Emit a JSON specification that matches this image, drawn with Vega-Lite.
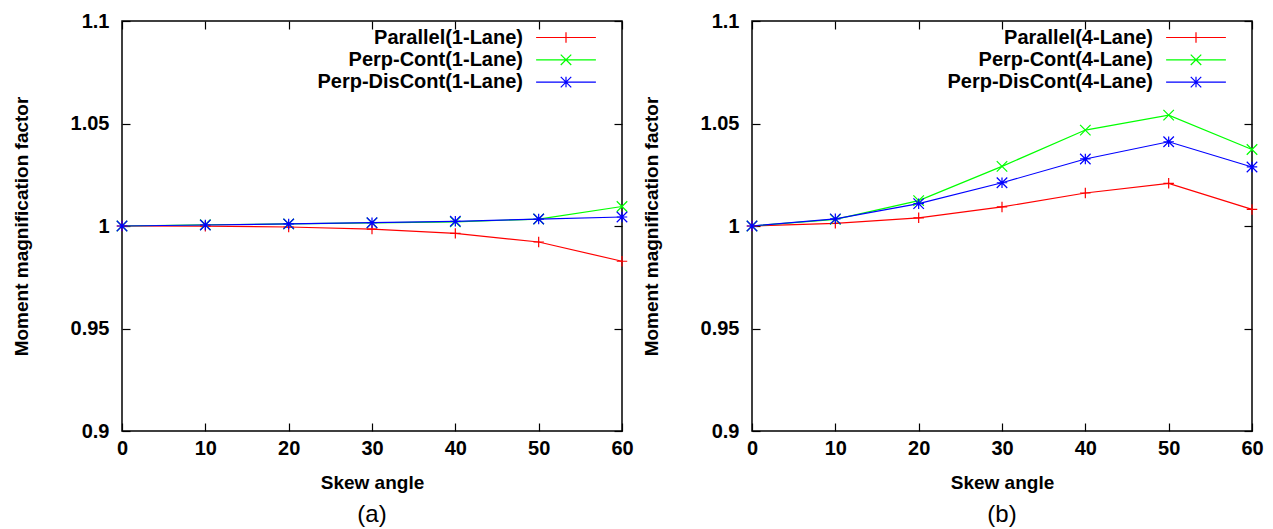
{
  "$schema": "https://vega.github.io/schema/vega-lite/v6.json",
  "background": "white",
  "padding": {"left": 11, "top": 10, "right": 5, "bottom": 5},
  "config": {
    "view": {"stroke": "black", "strokeWidth": 1.5},
    "font": "Liberation Sans",
    "axis": {
      "labelFont": "Liberation Sans", "labelFontSize": 20, "labelFontWeight": "bold", "labelColor": "black",
      "titleFont": "Liberation Sans", "titleFontSize": 19, "titleFontWeight": "bold", "titleColor": "black",
      "tickColor": "black", "tickSize": -8, "tickWidth": 1.2, "grid": false, "domain": false, "labelFlush": false
    },
    "legend": {
      "orient": "none", "legendX": 434, "legendY": 6.5, "padding": 0, "title": null,
      "labelFont": "Liberation Sans", "labelFontSize": 20, "labelFontWeight": "bold", "labelColor": "black",
      "labelAlign": "right", "labelOffset": -53, "labelLimit": 0,
      "symbolSize": 110, "symbolStrokeWidth": 1.2, "rowPadding": 2.3, "symbolOpacity": 1
    }
  },
  "datasets": {
    "a": [
      {"angle": 0, "mmf": 1.0, "series": "Parallel(1-Lane)"},
      {"angle": 10, "mmf": 0.9999, "series": "Parallel(1-Lane)"},
      {"angle": 20, "mmf": 0.9995, "series": "Parallel(1-Lane)"},
      {"angle": 30, "mmf": 0.9985, "series": "Parallel(1-Lane)"},
      {"angle": 40, "mmf": 0.9964, "series": "Parallel(1-Lane)"},
      {"angle": 50, "mmf": 0.9922, "series": "Parallel(1-Lane)"},
      {"angle": 60, "mmf": 0.9828, "series": "Parallel(1-Lane)"},
      {"angle": 0, "mmf": 1.0, "series": "Perp-Cont(1-Lane)"},
      {"angle": 10, "mmf": 1.0006, "series": "Perp-Cont(1-Lane)"},
      {"angle": 20, "mmf": 1.001, "series": "Perp-Cont(1-Lane)"},
      {"angle": 30, "mmf": 1.0015, "series": "Perp-Cont(1-Lane)"},
      {"angle": 40, "mmf": 1.002, "series": "Perp-Cont(1-Lane)"},
      {"angle": 50, "mmf": 1.0034, "series": "Perp-Cont(1-Lane)"},
      {"angle": 60, "mmf": 1.0095, "series": "Perp-Cont(1-Lane)"},
      {"angle": 0, "mmf": 1.0, "series": "Perp-DisCont(1-Lane)"},
      {"angle": 10, "mmf": 1.0005, "series": "Perp-DisCont(1-Lane)"},
      {"angle": 20, "mmf": 1.001, "series": "Perp-DisCont(1-Lane)"},
      {"angle": 30, "mmf": 1.0016, "series": "Perp-DisCont(1-Lane)"},
      {"angle": 40, "mmf": 1.0023, "series": "Perp-DisCont(1-Lane)"},
      {"angle": 50, "mmf": 1.0034, "series": "Perp-DisCont(1-Lane)"},
      {"angle": 60, "mmf": 1.0044, "series": "Perp-DisCont(1-Lane)"}
    ],
    "b": [
      {"angle": 0, "mmf": 1.0, "series": "Parallel(4-Lane)"},
      {"angle": 10, "mmf": 1.0013, "series": "Parallel(4-Lane)"},
      {"angle": 20, "mmf": 1.004, "series": "Parallel(4-Lane)"},
      {"angle": 30, "mmf": 1.0093, "series": "Parallel(4-Lane)"},
      {"angle": 40, "mmf": 1.0161, "series": "Parallel(4-Lane)"},
      {"angle": 50, "mmf": 1.0208, "series": "Parallel(4-Lane)"},
      {"angle": 60, "mmf": 1.0081, "series": "Parallel(4-Lane)"},
      {"angle": 0, "mmf": 1.0, "series": "Perp-Cont(4-Lane)"},
      {"angle": 10, "mmf": 1.0032, "series": "Perp-Cont(4-Lane)"},
      {"angle": 20, "mmf": 1.0124, "series": "Perp-Cont(4-Lane)"},
      {"angle": 30, "mmf": 1.0291, "series": "Perp-Cont(4-Lane)"},
      {"angle": 40, "mmf": 1.0468, "series": "Perp-Cont(4-Lane)"},
      {"angle": 50, "mmf": 1.0541, "series": "Perp-Cont(4-Lane)"},
      {"angle": 60, "mmf": 1.0373, "series": "Perp-Cont(4-Lane)"},
      {"angle": 0, "mmf": 1.0, "series": "Perp-DisCont(4-Lane)"},
      {"angle": 10, "mmf": 1.0035, "series": "Perp-DisCont(4-Lane)"},
      {"angle": 20, "mmf": 1.0109, "series": "Perp-DisCont(4-Lane)"},
      {"angle": 30, "mmf": 1.0211, "series": "Perp-DisCont(4-Lane)"},
      {"angle": 40, "mmf": 1.0327, "series": "Perp-DisCont(4-Lane)"},
      {"angle": 50, "mmf": 1.0411, "series": "Perp-DisCont(4-Lane)"},
      {"angle": 60, "mmf": 1.0288, "series": "Perp-DisCont(4-Lane)"}
    ]
  },
  "hconcat": [
    {
      "width": 500, "height": 410,
      "data": {"name": "a"},
      "title": {"text": "(a)", "orient": "bottom", "fontSize": 24, "fontWeight": "normal", "font": "Liberation Sans", "color": "black", "offset": 11},
      "layer": [
        {
          "mark": {"type": "line", "strokeWidth": 1.2},
          "encoding": {
            "x": {"field": "angle", "type": "quantitative", "scale": {"domain": [0, 60], "nice": false}, "axis": {"orient": "bottom", "title": "Skew angle", "values": [0, 10, 20, 30, 40, 50, 60], "labelPadding": 15, "titlePadding": 15}},
            "y": {"field": "mmf", "type": "quantitative", "scale": {"domain": [0.9, 1.1], "nice": false, "zero": false}, "axis": {"orient": "left", "title": "Moment magnification factor", "values": [0.9, 0.95, 1, 1.05, 1.1], "format": "~g", "labelPadding": 21, "titlePadding": 39}},
            "color": {"field": "series", "type": "nominal", "scale": {"domain": ["Parallel(1-Lane)", "Perp-Cont(1-Lane)", "Perp-DisCont(1-Lane)"], "range": ["#ff0000", "#00ff00", "#0000ff"]}}
          }
        },
        {
          "mark": {"type": "point", "filled": false, "size": 110, "strokeWidth": 1.2, "opacity": 0},
          "encoding": {
            "x": {"field": "angle", "type": "quantitative", "axis": {"orient": "top", "title": null, "labels": false, "values": [0, 10, 20, 30, 40, 50, 60]}},
            "y": {"field": "mmf", "type": "quantitative", "axis": {"orient": "right", "title": null, "labels": false, "values": [0.9, 0.95, 1, 1.05, 1.1]}},
            "color": {"field": "series", "type": "nominal"},
            "shape": {"field": "series", "type": "nominal", "scale": {"domain": ["Parallel(1-Lane)", "Perp-Cont(1-Lane)", "Perp-DisCont(1-Lane)"], "range": ["M-5.7,0H5.7M0,-1V1", "M-5.7,0H5.7M-1,-1L1,1M-1,1L1,-1", "M-5.7,0H5.7M0,-1V1M-1,-1L1,1M-1,1L1,-1"]}}
          }
        },
        {
          "transform": [{"filter": {"field": "series", "equal": "Parallel(1-Lane)"}}],
          "mark": {"type": "point", "filled": false, "size": 110, "strokeWidth": 1.2, "opacity": 1, "shape": "M-1,0H1M0,-1V1"},
          "encoding": {
            "x": {"field": "angle", "type": "quantitative", "axis": null},
            "y": {"field": "mmf", "type": "quantitative", "axis": null},
            "color": {"field": "series", "type": "nominal"}
          }
        },
        {
          "transform": [{"filter": {"field": "series", "equal": "Perp-Cont(1-Lane)"}}],
          "mark": {"type": "point", "filled": false, "size": 110, "strokeWidth": 1.2, "opacity": 1, "shape": "M-1,-1L1,1M-1,1L1,-1"},
          "encoding": {
            "x": {"field": "angle", "type": "quantitative", "axis": null},
            "y": {"field": "mmf", "type": "quantitative", "axis": null},
            "color": {"field": "series", "type": "nominal"}
          }
        },
        {
          "transform": [{"filter": {"field": "series", "equal": "Perp-DisCont(1-Lane)"}}],
          "mark": {"type": "point", "filled": false, "size": 110, "strokeWidth": 1.2, "opacity": 1, "shape": "M-1,0H1M0,-1V1M-1,-1L1,1M-1,1L1,-1"},
          "encoding": {
            "x": {"field": "angle", "type": "quantitative", "axis": null},
            "y": {"field": "mmf", "type": "quantitative", "axis": null},
            "color": {"field": "series", "type": "nominal"}
          }
        }
      ],
      "resolve": {"axis": {"x": "independent", "y": "independent"}}
    },
    {
      "width": 500, "height": 410,
      "data": {"name": "b"},
      "title": {"text": "(b)", "orient": "bottom", "fontSize": 24, "fontWeight": "normal", "font": "Liberation Sans", "color": "black", "offset": 11},
      "layer": [
        {
          "mark": {"type": "line", "strokeWidth": 1.2},
          "encoding": {
            "x": {"field": "angle", "type": "quantitative", "scale": {"domain": [0, 60], "nice": false}, "axis": {"orient": "bottom", "title": "Skew angle", "values": [0, 10, 20, 30, 40, 50, 60], "labelPadding": 15, "titlePadding": 15}},
            "y": {"field": "mmf", "type": "quantitative", "scale": {"domain": [0.9, 1.1], "nice": false, "zero": false}, "axis": {"orient": "left", "title": "Moment magnification factor", "values": [0.9, 0.95, 1, 1.05, 1.1], "format": "~g", "labelPadding": 21, "titlePadding": 39}},
            "color": {"field": "series", "type": "nominal", "scale": {"domain": ["Parallel(4-Lane)", "Perp-Cont(4-Lane)", "Perp-DisCont(4-Lane)"], "range": ["#ff0000", "#00ff00", "#0000ff"]}}
          }
        },
        {
          "mark": {"type": "point", "filled": false, "size": 110, "strokeWidth": 1.2, "opacity": 0},
          "encoding": {
            "x": {"field": "angle", "type": "quantitative", "axis": {"orient": "top", "title": null, "labels": false, "values": [0, 10, 20, 30, 40, 50, 60]}},
            "y": {"field": "mmf", "type": "quantitative", "axis": {"orient": "right", "title": null, "labels": false, "values": [0.9, 0.95, 1, 1.05, 1.1]}},
            "color": {"field": "series", "type": "nominal"},
            "shape": {"field": "series", "type": "nominal", "scale": {"domain": ["Parallel(4-Lane)", "Perp-Cont(4-Lane)", "Perp-DisCont(4-Lane)"], "range": ["M-5.7,0H5.7M0,-1V1", "M-5.7,0H5.7M-1,-1L1,1M-1,1L1,-1", "M-5.7,0H5.7M0,-1V1M-1,-1L1,1M-1,1L1,-1"]}}
          }
        },
        {
          "transform": [{"filter": {"field": "series", "equal": "Parallel(4-Lane)"}}],
          "mark": {"type": "point", "filled": false, "size": 110, "strokeWidth": 1.2, "opacity": 1, "shape": "M-1,0H1M0,-1V1"},
          "encoding": {
            "x": {"field": "angle", "type": "quantitative", "axis": null},
            "y": {"field": "mmf", "type": "quantitative", "axis": null},
            "color": {"field": "series", "type": "nominal"}
          }
        },
        {
          "transform": [{"filter": {"field": "series", "equal": "Perp-Cont(4-Lane)"}}],
          "mark": {"type": "point", "filled": false, "size": 110, "strokeWidth": 1.2, "opacity": 1, "shape": "M-1,-1L1,1M-1,1L1,-1"},
          "encoding": {
            "x": {"field": "angle", "type": "quantitative", "axis": null},
            "y": {"field": "mmf", "type": "quantitative", "axis": null},
            "color": {"field": "series", "type": "nominal"}
          }
        },
        {
          "transform": [{"filter": {"field": "series", "equal": "Perp-DisCont(4-Lane)"}}],
          "mark": {"type": "point", "filled": false, "size": 110, "strokeWidth": 1.2, "opacity": 1, "shape": "M-1,0H1M0,-1V1M-1,-1L1,1M-1,1L1,-1"},
          "encoding": {
            "x": {"field": "angle", "type": "quantitative", "axis": null},
            "y": {"field": "mmf", "type": "quantitative", "axis": null},
            "color": {"field": "series", "type": "nominal"}
          }
        }
      ],
      "resolve": {"axis": {"x": "independent", "y": "independent"}}
    }
  ],
  "spacing": 130,
  "bounds": "flush",
  "resolve": {"scale": {"color": "independent", "shape": "independent"}, "legend": {"color": "independent", "shape": "independent"}}
}
